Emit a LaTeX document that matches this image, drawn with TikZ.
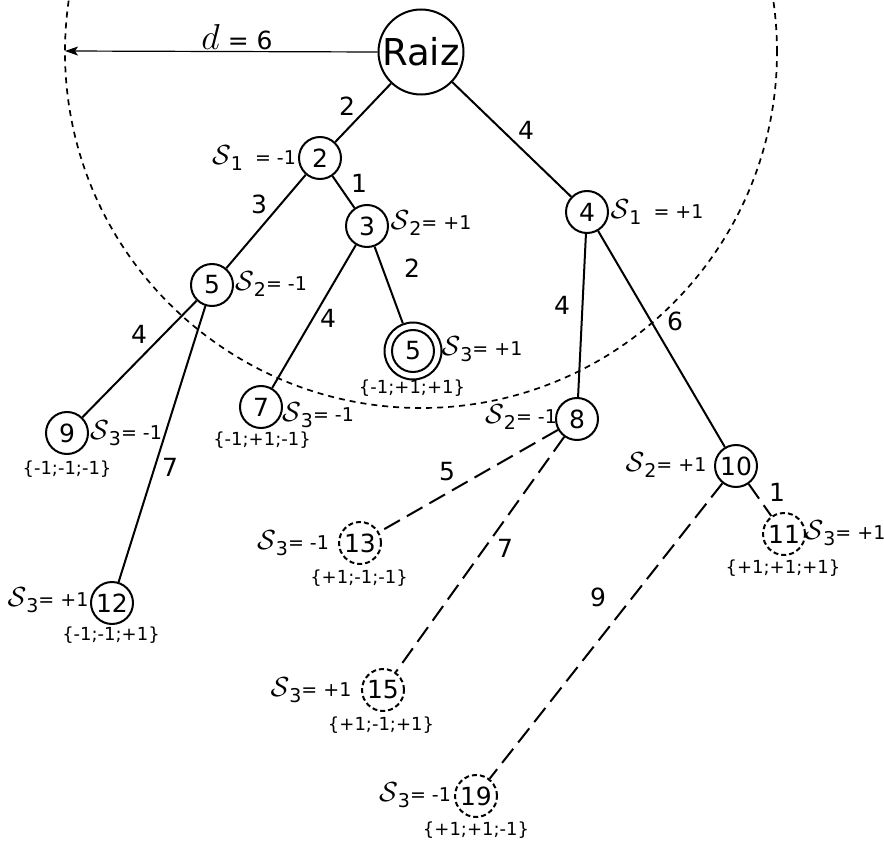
\documentclass[tikz,border=0pt]{standalone}
\usepackage{graphicx}
\usepackage{fontspec}
\setmainfont{DejaVu Sans}
\usetikzlibrary{arrows.meta}
\newcommand{\Sv}[2]{\scalebox{1.6}{$\mathcal{S}$}\raisebox{-0.3em}{#1}#2}
\tikzset{
  vtx/.style={circle,draw,line width=2pt,inner sep=0pt,minimum size=42pt,font=\fontsize{25}{28}\selectfont},
  dvtx/.style={vtx,dash pattern=on 5pt off 3pt},
  elab/.style={font=\fontsize{25}{28}\selectfont,inner sep=0pt},
  slab/.style={font=\fontsize{19}{22}\selectfont,inner sep=0pt},
  setlab/.style={font=\fontsize{18}{20}\selectfont,inner sep=0pt},
  edge/.style={line width=2pt},
  dedge/.style={line width=2pt,dash pattern=on 18pt off 8pt},
}
\begin{document}
\begin{tikzpicture}[x=1pt,y=-1pt]
\useasboundingbox (0,0) rectangle (884,848);
% nodes
\node[vtx,minimum size=85pt,font=\fontsize{37}{40}\selectfont] (raiz) at (421,52) {Raiz};
\node[vtx] (n2) at (320,158) {2};
\node[vtx] (n3) at (367,226) {3};
\node[vtx] (n4) at (587,212) {4};
\node[vtx] (n5b) at (413,351) {5};
\node[circle,draw,line width=2pt,inner sep=0pt,minimum size=57pt] (n5bo) at (413,351) {};
\node[vtx] (n5a) at (212,285) {5};
\node[vtx] (n7) at (261,407) {7};
\node[vtx] (n9) at (67,433) {9};
\node[vtx] (n12) at (112,603) {12};
\node[vtx] (n8) at (577,419) {8};
\node[vtx] (n10) at (736,466) {10};
\node[dvtx] (n11) at (784,534) {11};
\node[dvtx] (n13) at (360,543) {13};
\node[dvtx] (n15) at (383,690) {15};
\node[dvtx] (n19) at (476,796) {19};
% dashed radius circle
\begin{scope}
\clip (0,0) rectangle (884,848);
\draw[line width=1.7pt,dash pattern=on 6pt off 5pt] (raiz.center) circle (356pt);
\end{scope}
% arrow
\coordinate (dend) at (65,51);
\draw[line width=1.2pt,-{Stealth[length=13pt,width=9pt,inset=3pt]}] (raiz.west) -- (dend);
\node[inner sep=0pt,font=\fontsize{25}{26}\selectfont] (dlab) at (237,37) {\scalebox{1.45}{$d$} = 6};
% edges
\draw[edge] (raiz) -- (n2);
\draw[edge] (raiz) -- (n4);
\draw[edge] (n2) -- (n3);
\draw[edge] (n2) -- (n5a);
\draw[edge] (n3) -- (n5bo);
\draw[edge] (n3) -- (n7);
\draw[edge] (n5a) -- (n9);
\draw[edge] (n5a) -- (n12);
\draw[edge] (n4) -- (n8);
\draw[edge] (n4) -- (n10);
\draw[dedge] (n10) -- (n11);
\draw[dedge] (n8) -- (n13);
\draw[dedge] (n8) -- (n15);
\draw[dedge] (n10) -- (n19);
% edge labels
\node[elab] (e1) at (347,106) {2};
\node[elab] (e2) at (359,183) {1};
\node[elab] (e3) at (259,204) {3};
\node[elab] (e4) at (526,130) {4};
\node[elab] (e5) at (412,268) {2};
\node[elab] (e6) at (328,318) {4};
\node[elab] (e7) at (139,334) {4};
\node[elab] (e8) at (170,467) {7};
\node[elab] (e9) at (562,305) {4};
\node[elab] (e10) at (675,321) {6};
\node[elab] (e11) at (777,492) {1};
\node[elab] (e12) at (447,472) {5};
\node[elab] (e13) at (505,548) {7};
\node[elab] (e14) at (598,597) {9};
% s labels
\node[slab] (l2) at (254,158) {\Sv{1}{\ \ = -1}};
\node[slab] (l3) at (431,223) {\Sv{2}{= +1}};
\node[slab] (l4) at (657,212) {\Sv{1}{\ \ = +1}};
\node[slab] (l5a) at (271,284) {\Sv{2}{= -1}};
\node[slab] (l5b) at (482,349) {\Sv{3}{= +1}};
\node[slab] (l7) at (318,415) {\Sv{3}{= -1}};
\node[slab] (l9) at (126,433) {\Sv{3}{= -1}};
\node[slab] (l12) at (48,600) {\Sv{3}{= +1}};
\node[slab] (l8) at (521,417) {\Sv{2}{= -1}};
\node[slab] (l10) at (666,465) {\Sv{2}{= +1}};
\node[slab] (l11) at (845,533) {\Sv{3}{= +1}};
\node[slab] (l13) at (293,543) {\Sv{3}{= -1}};
\node[slab] (l15) at (311,690) {\Sv{3}{= +1}};
\node[slab] (l19) at (415,795) {\Sv{3}{= -1}};
% sets
\node[setlab] (c5b) at (412,388) {\{-1;+1;+1\}};
\node[setlab] (c7) at (262,440) {\{-1;+1;-1\}};
\node[setlab] (c9) at (67,469) {\{-1;-1;-1\}};
\node[setlab] (c12) at (111,635) {\{-1;-1;+1\}};
\node[setlab] (c11) at (783,568) {\{+1;+1;+1\}};
\node[setlab] (c13) at (359,578) {\{+1;-1;-1\}};
\node[setlab] (c15) at (381,725) {\{+1;-1;+1\}};
\node[setlab] (c19) at (476,830) {\{+1;+1;-1\}};
\end{tikzpicture}
\end{document}
